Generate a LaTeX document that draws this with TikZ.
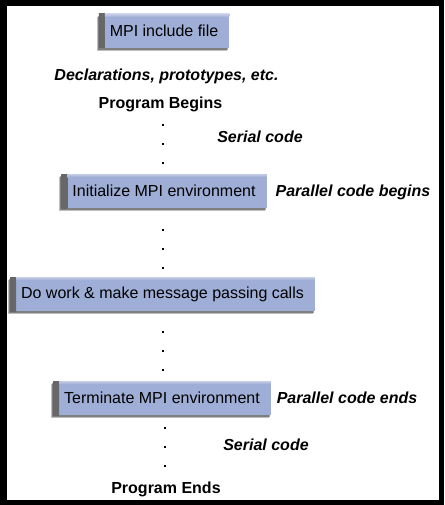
\documentclass[tikz,border=0pt]{standalone}
\usepackage{fontspec}
\setmainfont{Liberation Sans}
\usepackage{tikz}
\usetikzlibrary{shadows}
\definecolor{boxblue}{RGB}{158,174,214}

\begin{document}
\begin{tikzpicture}[x=1pt,y=-1pt,node distance=19pt,
                    font=\fontsize{16}{19}\selectfont,
                    main node/.style={rectangle,fill=boxblue,minimum height=34pt,inner xsep=11pt,
                      general shadow={shadow xshift=-2pt,shadow yshift=-3pt,opacity=.25,fill=black},
                      drop shadow={shadow xshift=-1pt,shadow yshift=-2pt,opacity=.45,fill=black!80},
                      path picture={\shade[left color=black!60,right color=boxblue]
                        (path picture bounding box.south west) rectangle
                        ([xshift=6pt]path picture bounding box.north west);
                        \shade[top color=white!40!boxblue,bottom color=boxblue]
                        ([xshift=6pt]path picture bounding box.north west) rectangle
                        ([yshift=-3pt]path picture bounding box.north east);}},
                    note/.style={font=\fontsize{16}{19}\selectfont\bfseries\itshape},
                    title/.style={font=\fontsize{16}{19}\selectfont\bfseries},
                    dot/.style={fill=black,minimum size=2.5pt,inner sep=0pt}]
  %frame%
  \fill[black] (0,0) rectangle (444,505);
  \fill[white] (7,6) rectangle (439,500);

  %MPI program%
  \node[main node] (inc) at (164,31) {MPI include file};
  \node[note] (decl) at (166.5,76) {Declarations, prototypes, etc.};
  \node[title] (begins) at (160.5,104) {Program Begins};
  \node[dot] (d1) at (163,125) {};
  \node[dot] (d2) [below of=d1] {};
  \node[dot] (d3) [below of=d2] {};
  \node[note] (serial1) at (260,137) {Serial code};

  \node[main node] (init) at (164,191) {Initialize MPI environment};
  \node[note] (parbegin) at (353,192) {Parallel code begins};
  \node[dot] (d4) at (163,230) {};
  \node[dot] (d5) [below of=d4] {};
  \node[dot] (d6) [below of=d5] {};

  \node[main node] (work) at (162.5,294) {Do work \& make message passing calls};
  \node[dot] (d7) at (163,332) {};
  \node[dot] (d8) [below of=d7] {};
  \node[dot] (d9) [below of=d8] {};

  \node[main node] (term) at (162,398) {Terminate MPI environment};
  \node[note] (parend) at (347,398) {Parallel code ends};
  \node[dot] (d10) at (165,428) {};
  \node[dot] (d11) [below of=d10] {};
  \node[dot] (d12) [below of=d11] {};
  \node[note] (serial2) at (266,445) {Serial code};

  \node[title] (ends) at (166,489) {Program Ends};
\end{tikzpicture}
\end{document}
